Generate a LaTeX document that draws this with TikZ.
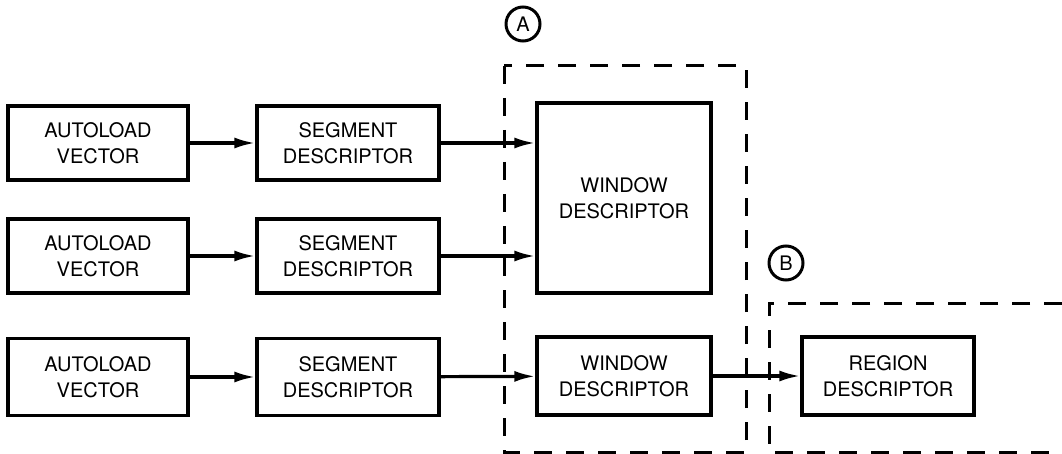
\documentclass[tikz,border=0pt]{standalone}
\usepackage{fontspec}
\setmainfont{TeX Gyre Heros}
\usetikzlibrary{arrows.meta}
\tikzset{
  blk/.style={draw,line width=3.2pt,align=center,inner sep=0pt,font=\fontsize{20}{26}\selectfont},
  arr/.style={line width=3.2pt,-{Latex[length=21pt,width=11pt]}},
  grp/.style={line width=3pt,dash pattern=on 18pt off 14pt},
  tag/.style={draw,circle,line width=3pt,minimum size=34pt,inner sep=0pt,font=\fontsize{20}{24}\selectfont}
}
\begin{document}
\begin{tikzpicture}[x=1pt,y=-1pt]
  \useasboundingbox (0,0) rectangle (1062,454);
  % left column
  \node[blk,minimum width=180pt,minimum height=74pt] (av1) at (98,143) {AUTOLOAD\\VECTOR};
  \node[blk,minimum width=180pt,minimum height=74pt] (av2) at (98,256) {AUTOLOAD\\VECTOR};
  \node[blk,minimum width=180pt,minimum height=77pt] (av3) at (98,377) {AUTOLOAD\\VECTOR};
  \node[blk,minimum width=182pt,minimum height=74pt] (sd1) at (348,143) {SEGMENT\\DESCRIPTOR};
  \node[blk,minimum width=182pt,minimum height=74pt] (sd2) at (348,256) {SEGMENT\\DESCRIPTOR};
  \node[blk,minimum width=182pt,minimum height=77pt] (sd3) at (348,377) {SEGMENT\\DESCRIPTOR};
  % group A
  \node[blk,minimum width=174pt,minimum height=190pt] (wd1) at (624,198) {WINDOW\\DESCRIPTOR};
  \node[blk,minimum width=174pt,minimum height=78pt] (wd2) at (624,376) {WINDOW\\DESCRIPTOR};
  \draw[grp] (504,66) rectangle (746,452);
  \node[tag] (ta) at (523,24) {A};
  % group B
  \node[blk,minimum width=172pt,minimum height=78pt] (rd) at (888,376) {REGION\\DESCRIPTOR};
  \draw[grp] (1062,303) -- (769,303) -- (769,452) -- (1062,452);
  \node[tag] (tb) at (786,263) {B};
  % links
  \draw[arr] (av1) -- (sd1);
  \draw[arr] (av2) -- (sd2);
  \draw[arr] (av3) -- (sd3);
  \draw[arr] (sd1.east) -- (sd1.east -| wd1.west);
  \draw[arr] (sd2.east) -- (sd2.east -| wd1.west);
  \draw[arr] (sd3) -- (wd2);
  \draw[arr] (wd2) -- (rd);
\end{tikzpicture}
\end{document}
